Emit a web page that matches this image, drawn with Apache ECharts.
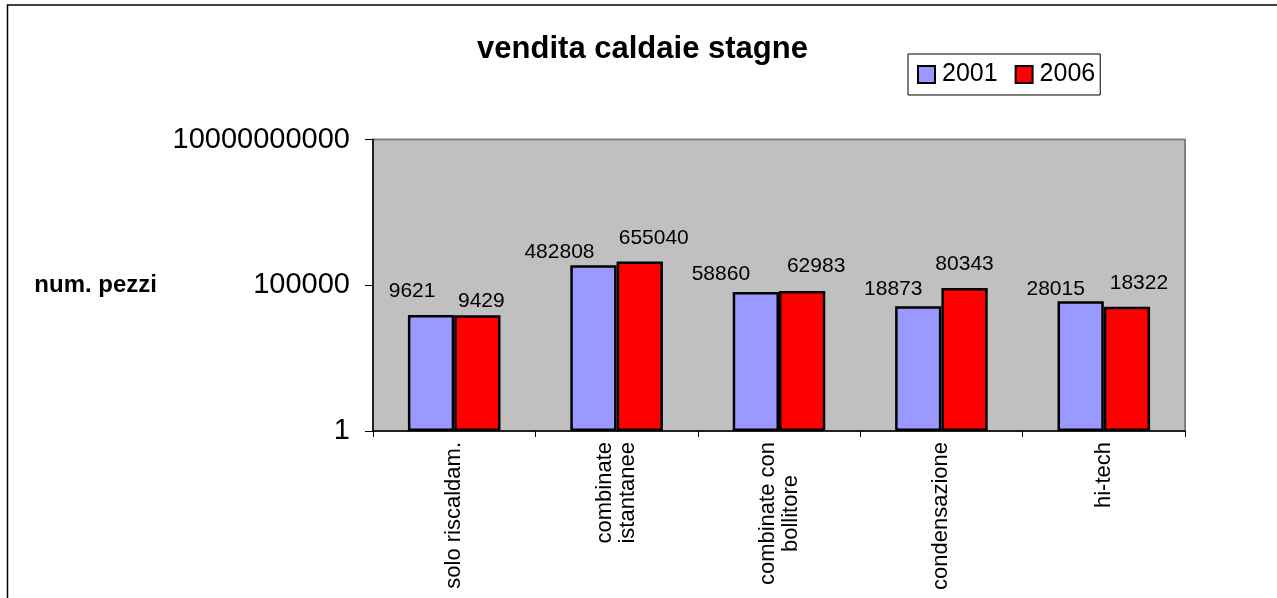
<!DOCTYPE html>
<html>
<head>
<meta charset="utf-8">
<script src="https://cdn.jsdelivr.net/npm/echarts@6/dist/echarts.min.js"></script>
<style>html,body{margin:0;padding:0;background:#fff;}#c{width:1277px;height:598px;}</style>
</head>
<body>
<div id="c"></div>
<script>
var categories = ['solo riscaldam.', 'combinate\nistantanee', 'combinate con\nbollitore', 'condensazione', 'hi-tech'];
var seriesNames = ['2001', '2006'];
var values2001 = [9621, 482808, 58860, 18873, 28015];
var values2006 = [9429, 655040, 62983, 80343, 18322];
var yTicks = [1, 100000, 10000000000];
// label nudges (Excel moved labels to avoid overlaps): [dx, extra lift]
var nudge2001 = [[-19, 10], [-34, 0], [-35, 4], [-25, 4], [-25, -1]];
var nudge2006 = [[4, 0], [14, 10], [14, 11], [0, 10], [12, 10]];

var FONT = "'Liberation Sans', Arial, sans-serif";
function mk(vals, nudges) {
  return vals.map(function (v, i) {
    return { value: v, label: { offset: [nudges[i][0], -nudges[i][1]] } };
  });
}
var chart = echarts.init(document.getElementById('c'), null, { renderer: 'canvas' });
chart.setOption({
  animation: false,
  backgroundColor: '#ffffff',
  textStyle: { fontFamily: FONT },
  title: {
    text: 'vendita caldaie stagne',
    left: 637.5, top: 29, textAlign: 'center',
    textStyle: { fontFamily: FONT, fontSize: 31, fontWeight: 'bold', color: '#000' }
  },
  legend: {
    left: 908, top: 54,
    orient: 'horizontal',
    padding: [8, 5, 8, 9],
    itemWidth: 17, itemHeight: 17, itemGap: 17,
    borderColor: '#000', borderWidth: 1,
    icon: 'rect',
    data: seriesNames,
    itemStyle: { borderColor: '#000', borderWidth: 2 },
    textStyle: { fontFamily: FONT, fontSize: 25, color: '#000', padding: [0, 0, 0, 2] }
  },
  grid: {
    left: 373, top: 139.5, right: 92, bottom: 167,
    show: true, backgroundColor: '#C0C0C0', borderColor: '#808080', borderWidth: 2,
    containLabel: false
  },
  graphic: [{
    type: 'rect', silent: true,
    shape: { x: 7.5, y: 5, width: 3000, height: 3000 },
    style: { fill: 'none', stroke: '#000', lineWidth: 1.5 }
  }],
  xAxis: {
    type: 'category',
    data: categories,
    axisLine: { show: true, lineStyle: { color: '#000', width: 1.5 } },
    axisTick: { show: true, inside: false, length: 6, lineStyle: { color: '#000' } },
    axisLabel: {
      rotate: 90, margin: 11, interval: 0,
      fontFamily: FONT, fontSize: 22, color: '#000', lineHeight: 23,
      formatter: function (v) {
        return v.split('\n').map(function (s) { return '{c|' + s + '}'; }).join('\n');
      },
      rich: { c: { align: 'center', fontFamily: FONT, fontSize: 22, color: '#000', lineHeight: 23 } }
    },
    splitLine: { show: false }
  },
  yAxis: {
    type: 'log',
    logBase: 100000,
    min: yTicks[0], max: yTicks[yTicks.length - 1],
    splitNumber: 2,
    name: 'num. pezzi',
    nameLocation: 'middle', nameRotate: 0, nameGap: 216,
    nameTextStyle: { fontFamily: FONT, fontSize: 24, fontWeight: 'bold', color: '#000' },
    axisLine: { show: true, lineStyle: { color: '#000', width: 1.5 } },
    axisTick: { show: true, inside: false, length: 8, lineStyle: { color: '#000' } },
    axisLabel: {
      margin: 23, fontFamily: FONT, fontSize: 29, color: '#000',
      formatter: function (v) { return String(Math.round(v)); }
    },
    splitLine: { show: false }
  },
  series: [{
    name: seriesNames[0], type: 'bar',
    data: mk(values2001, nudge2001),
    barGap: '0%', barCategoryGap: '43%',
    itemStyle: { color: '#9999FF', borderColor: '#000', borderWidth: 2.5 },
    label: { show: true, position: 'top', distance: 3, fontFamily: FONT, fontSize: 21, color: '#000' }
  }, {
    name: seriesNames[1], type: 'bar',
    data: mk(values2006, nudge2006),
    barGap: '0%', barCategoryGap: '43%',
    itemStyle: { color: '#FF0000', borderColor: '#000', borderWidth: 2.5 },
    label: { show: true, position: 'top', distance: 3, fontFamily: FONT, fontSize: 21, color: '#000' }
  }]
});
</script>
</body>
</html>
